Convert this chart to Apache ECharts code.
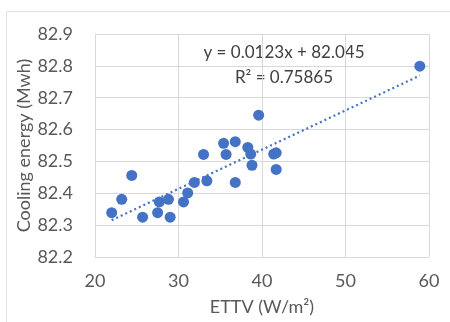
<!DOCTYPE html>
<html><head><meta charset="utf-8">
<script src="https://cdn.jsdelivr.net/npm/echarts@6/dist/echarts.min.js"></script>
<style>html,body{margin:0;padding:0;background:#fff}#c{width:450px;height:322px}</style>
</head><body><div id="c"></div>
<script>
const ettv = [22.0, 23.2, 24.4, 25.7, 27.5, 27.7, 28.8, 29.0, 30.6, 31.1, 31.9, 33.4, 33.0, 35.4, 35.7, 36.8, 36.8, 38.3, 38.65, 38.8, 39.6, 41.4, 41.7, 41.7, 58.9];
const cooling = [82.339, 82.381, 82.456, 82.325, 82.339, 82.373, 82.381, 82.325, 82.373, 82.401, 82.434, 82.439, 82.522, 82.557, 82.522, 82.562, 82.434, 82.544, 82.523, 82.488, 82.645, 82.523, 82.527, 82.475, 82.799];
const slope = 0.0123, intercept = 82.045;
const xTicks = [20, 30, 40, 50, 60];
const yTicks = [82.2, 82.3, 82.4, 82.5, 82.6, 82.7, 82.8, 82.9];

const pts = ettv.map((x, i) => [x, cooling[i]]);
const xmin = Math.min(...ettv), xmax = Math.max(...ettv);
const trend = [[xmin, slope * xmin + intercept], [xmax, slope * xmax + intercept]];

const chart = echarts.init(document.getElementById('c'), null, {renderer: 'canvas'});
const font = 'Lato, "Open Sans", sans-serif';
chart.setOption({
  animation: false,
  grid: {left: 95, right: 21, top: 34, bottom: 65},
  xAxis: {
    type: 'value', min: xTicks[0], max: xTicks[xTicks.length - 1], interval: 10,
    name: 'ETTV (W/m²)', nameLocation: 'middle', nameGap: 41,
    nameTextStyle: {fontSize: 18, color: '#595959', fontFamily: font},
    axisLine: {show: true, lineStyle: {color: '#d9d9d9', width: 1}},
    axisTick: {show: false},
    axisLabel: {fontSize: 18, color: '#595959', fontFamily: font, margin: 15},
    splitLine: {show: true, lineStyle: {color: '#d9d9d9', width: 1}}
  },
  yAxis: {
    type: 'value', min: yTicks[0], max: yTicks[yTicks.length - 1], interval: 0.1,
    name: 'Cooling energy (Mwh)', nameLocation: 'middle', nameGap: 62, nameMoveOverlap: false,
    nameTextStyle: {fontSize: 18, color: '#595959', fontFamily: font},
    axisLine: {show: true, lineStyle: {color: '#d9d9d9', width: 1}},
    axisTick: {show: false},
    axisLabel: {fontSize: 18, color: '#595959', fontFamily: font, margin: 22,
      formatter: v => v.toFixed(1)},
    splitLine: {show: true, lineStyle: {color: '#d9d9d9', width: 1}}
  },
  series: [
    {
      type: 'line', data: trend, symbol: 'none', silent: true,
      lineStyle: {color: '#4472C4', width: 2.2, type: [2, 3]}, z: 1
    },
    {
      type: 'scatter', data: pts, symbolSize: 11,
      itemStyle: {color: '#4472C4', opacity: 1}, z: 2
    }
  ],
  graphic: [
    {type: 'line', shape: {x1: 6.5, y1: 11.5, x2: 450, y2: 11.5}, style: {stroke: '#e3e3e3', lineWidth: 1}},
    {type: 'line', shape: {x1: 6.5, y1: 11.5, x2: 6.5, y2: 322}, style: {stroke: '#e3e3e3', lineWidth: 1}},
    {type: 'text', x: 284, y: 44, style: {text: 'y = 0.0123x + 82.045', fontSize: 17, fill: '#404040', fontFamily: font, textAlign: 'center'}},
    {type: 'text', x: 284, y: 69, style: {text: 'R² = 0.75865', fontSize: 17, fill: '#404040', fontFamily: font, textAlign: 'center'}}
  ]
});
</script>
</body></html>
